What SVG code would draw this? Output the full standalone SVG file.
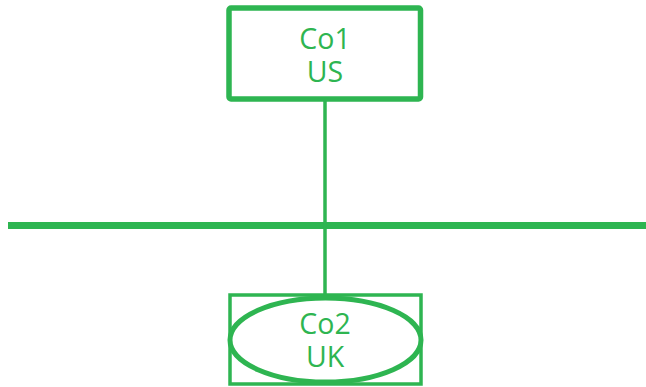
<svg xmlns="http://www.w3.org/2000/svg" width="646" height="387" viewBox="0 0 646 387">
<style>
.g{fill:none;stroke:#2eb551}
.t{font-family:"Open Sans","Liberation Sans",sans-serif;font-size:28.5px;fill:#2eb551;text-anchor:middle}
</style>
<rect width="646" height="387" fill="#fff"/>
<g id="connectors">
<line class="g" x1="8" y1="225.5" x2="646" y2="225.5" stroke-width="7"/>
<line class="g" x1="325" y1="99" x2="325" y2="295" stroke-width="3.5"/>
</g>
<g id="co1">
<rect class="g" x="229" y="8" width="191.5" height="91" rx="2" stroke-width="5.5"/>
<text class="t"><tspan x="325" y="49">Co1</tspan><tspan x="325" y="82">US</tspan></text>
</g>
<g id="co2">
<rect class="g" x="230" y="295" width="191" height="89" stroke-width="3.5"/>
<ellipse class="g" cx="325.5" cy="340" rx="95.5" ry="42" stroke-width="5"/>
<text class="t"><tspan x="325" y="334">Co2</tspan><tspan x="325" y="367">UK</tspan></text>
</g>
</svg>
